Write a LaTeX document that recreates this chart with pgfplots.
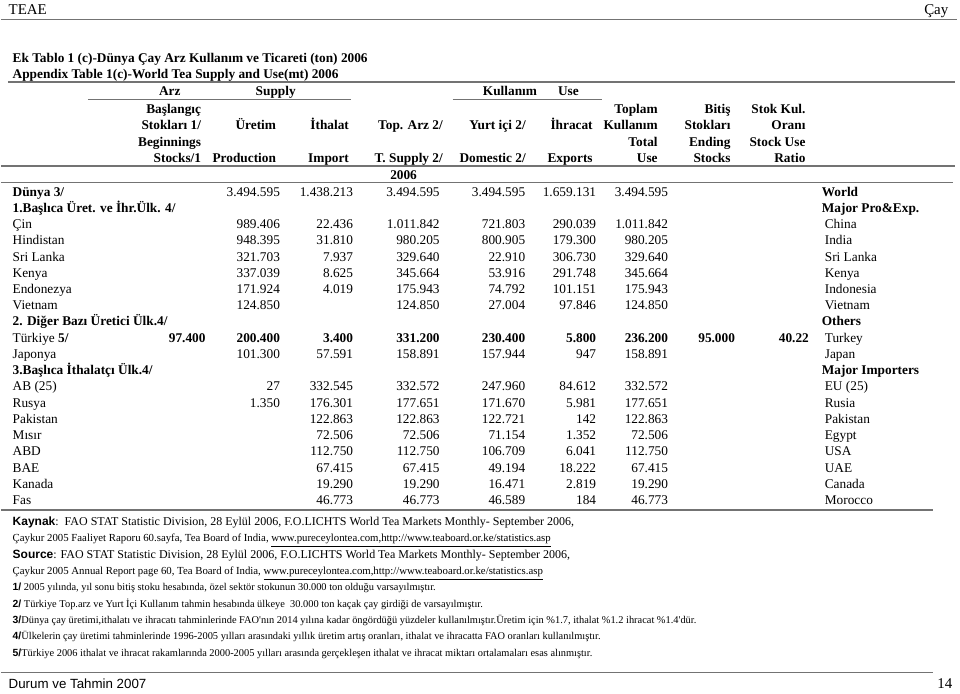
\documentclass[border=0pt]{standalone}
\usepackage{fontspec}
\setmainfont{Liberation Serif}
\setsansfont{Liberation Sans}
\usepackage{pgfplots}
\pgfplotsset{compat=1.18}

% one unit = one pixel of the page (0.75pt)
\pgfplotsset{
  cell/.style={draw=none, mark=none, nodes near coords, point meta=explicit symbolic,
    every node near coord/.append style={anchor=base east, inner sep=0pt, text=black,
      font=\fontsize{10}{12}\selectfont}},
  bcell/.style={cell, every node near coord/.append style={font=\fontsize{10}{12}\selectfont\bfseries}},
  rule/.style={black!55, line width=1.1pt, mark=none},
}
\newcommand{\body}{\fontsize{10}{12}\selectfont}
\newcommand{\srcf}{\fontsize{9}{11}\selectfont}
\newcommand{\urlf}{\fontsize{8.1}{10}\selectfont}
\newcommand{\notef}{\fontsize{7.8}{9}\selectfont}
\newcommand{\lab}[1]{\textsf{\bfseries #1}}

\begin{document}
\begin{tikzpicture}
\begin{axis}[
  hide axis, scale only axis, clip=false,
  width=720pt, height=518.25pt,
  xmin=0, xmax=960, ymin=0, ymax=691, y dir=reverse,
  every node/.style={inner sep=0pt},
]
\addplot[draw=none] coordinates {(0,0) (960,691)};

% rules
\addplot[rule] coordinates {(0,17) (957,17)};
\addplot[rule, line width=1.4pt] coordinates {(7,80) (955,80)};
\addplot[rule, line width=0.8pt] coordinates {(87,97.5) (350,97.5)};
\addplot[rule, line width=0.8pt] coordinates {(452,97.5) (602,97.5)};
\addplot[rule, line width=1.5pt] coordinates {(0,163.5) (955,163.5)};
\addplot[rule] coordinates {(0,180.5) (953,180.5)};
\addplot[rule] coordinates {(0,508) (933,508)};
\addplot[rule] coordinates {(0,671) (933,671)};

% page head and foot
\node[anchor=base west, font=\fontsize{11.2}{13}\selectfont] at (axis cs:3,12) {TEAE};
\node[anchor=base east, font=\fontsize{11.2}{13}\selectfont] at (axis cs:953,12) {Çay};
\node[anchor=base west, font=\sffamily\fontsize{10}{12}\selectfont] at (axis cs:3,687) {Durum ve Tahmin 2007};
\node[anchor=base east, font=\fontsize{11.2}{13}\selectfont] at (axis cs:957,687) {14};

% titles
\node[anchor=base west, font=\body\bfseries] at (axis cs:7,60) {Ek Tablo 1 (c)-Dünya Çay Arz Kullanım ve Ticareti (ton) 2006};
\node[anchor=base west, font=\body\bfseries] at (axis cs:7,76) {Appendix Table 1(c)-World Tea Supply and Use(mt) 2006};

% column heads
\begin{scope}[font=\body\bfseries]
\node[anchor=base] at (axis cs:169,93) {Arz};
\node[anchor=base] at (axis cs:275,93) {Supply};
\node[anchor=base] at (axis cs:509.5,93) {Kullanım};
\node[anchor=base] at (axis cs:568,93) {Use};
\node[anchor=base east] at (axis cs:205,111) {Başlangıç};
\node[anchor=base east] at (axis cs:205,127.5) {Stokları 1/};
\node[anchor=base east] at (axis cs:205,144) {Beginnings};
\node[anchor=base east] at (axis cs:205,160.5) {Stocks/1};
\node[anchor=base east] at (axis cs:280,127.5) {Üretim};
\node[anchor=base east] at (axis cs:280,160.5) {Production};
\node[anchor=base east] at (axis cs:353,127.5) {İthalat};
\node[anchor=base east] at (axis cs:353,160.5) {Import};
\node[anchor=base east] at (axis cs:447,127.5) {Top. Arz 2/};
\node[anchor=base east] at (axis cs:447,160.5) {T. Supply 2/};
\node[anchor=base east] at (axis cs:530,127.5) {Yurt içi 2/};
\node[anchor=base east] at (axis cs:530,160.5) {Domestic 2/};
\node[anchor=base east] at (axis cs:597,127.5) {İhracat};
\node[anchor=base east] at (axis cs:597,160.5) {Exports};
\node[anchor=base east] at (axis cs:662,111) {Toplam};
\node[anchor=base east] at (axis cs:662,127.5) {Kullanım};
\node[anchor=base east] at (axis cs:662,144) {Total};
\node[anchor=base east] at (axis cs:662,160.5) {Use};
\node[anchor=base east] at (axis cs:735,111) {Bitiş};
\node[anchor=base east] at (axis cs:735,127.5) {Stokları};
\node[anchor=base east] at (axis cs:735,144) {Ending};
\node[anchor=base east] at (axis cs:735,160.5) {Stocks};
\node[anchor=base east] at (axis cs:810,111) {Stok Kul.};
\node[anchor=base east] at (axis cs:810,127.5) {Oranı};
\node[anchor=base east] at (axis cs:810,144) {Stock Use};
\node[anchor=base east] at (axis cs:810,160.5) {Ratio};
\node[anchor=base] at (axis cs:403,177) {2006};
\end{scope}

% row names (row i sits at 194 + 16.25 i)
\begin{scope}[font=\body]
\node[anchor=base west, font=\body\bfseries] at (axis cs:7,194) {Dünya 3/};
\node[anchor=base west, font=\body\bfseries] at (axis cs:7,210.25) {1.Başlıca Üret. ve İhr.Ülk. 4/};
\node[anchor=base west] at (axis cs:7,226.5) {Çin};
\node[anchor=base west] at (axis cs:7,242.75) {Hindistan};
\node[anchor=base west] at (axis cs:7,259) {Sri Lanka};
\node[anchor=base west] at (axis cs:7,275.25) {Kenya};
\node[anchor=base west] at (axis cs:7,291.5) {Endonezya};
\node[anchor=base west] at (axis cs:7,307.75) {Vietnam};
\node[anchor=base west, font=\body\bfseries] at (axis cs:7,324) {2. Diğer Bazı Üretici Ülk.4/};
\node[anchor=base west] at (axis cs:7,340.25) {Türkiye \textbf{5/}};
\node[anchor=base west] at (axis cs:7,356.5) {Japonya};
\node[anchor=base west, font=\body\bfseries] at (axis cs:7,372.75) {3.Başlıca İthalatçı Ülk.4/};
\node[anchor=base west] at (axis cs:7,389) {AB (25)};
\node[anchor=base west] at (axis cs:7,405.25) {Rusya};
\node[anchor=base west] at (axis cs:7,421.5) {Pakistan};
\node[anchor=base west] at (axis cs:7,437.75) {Mısır};
\node[anchor=base west] at (axis cs:7,454) {ABD};
\node[anchor=base west] at (axis cs:7,470.25) {BAE};
\node[anchor=base west] at (axis cs:7,486.5) {Kanada};
\node[anchor=base west] at (axis cs:7,502.75) {Fas};

\node[anchor=base west, font=\body\bfseries] at (axis cs:817,194) {World};
\node[anchor=base west, font=\body\bfseries] at (axis cs:817,210.25) {Major Pro\&Exp.};
\node[anchor=base west] at (axis cs:820,226.5) {China};
\node[anchor=base west] at (axis cs:820,242.75) {India};
\node[anchor=base west] at (axis cs:820,259) {Sri Lanka};
\node[anchor=base west] at (axis cs:820,275.25) {Kenya};
\node[anchor=base west] at (axis cs:820,291.5) {Indonesia};
\node[anchor=base west] at (axis cs:820,307.75) {Vietnam};
\node[anchor=base west, font=\body\bfseries] at (axis cs:817,324) {Others};
\node[anchor=base west] at (axis cs:820,340.25) {Turkey};
\node[anchor=base west] at (axis cs:820,356.5) {Japan};
\node[anchor=base west, font=\body\bfseries] at (axis cs:817,372.75) {Major Importers};
\node[anchor=base west] at (axis cs:820,389) {EU (25)};
\node[anchor=base west] at (axis cs:820,405.25) {Rusia};
\node[anchor=base west] at (axis cs:820,421.5) {Pakistan};
\node[anchor=base west] at (axis cs:820,437.75) {Egypt};
\node[anchor=base west] at (axis cs:820,454) {USA};
\node[anchor=base west] at (axis cs:820,470.25) {UAE};
\node[anchor=base west] at (axis cs:820,486.5) {Canada};
\node[anchor=base west] at (axis cs:820,502.75) {Morocco};
\end{scope}

% values, one table per column: r = row, v = value as printed
% Uretim / Production
\addplot[cell] table[x expr=279.5, y expr=194+16.25*\thisrow{r}, meta=v] {
r v
0 3.494.595
2 989.406
3 948.395
4 321.703
5 337.039
6 171.924
7 124.850
10 101.300
12 27
13 1.350
};
% Ithalat / Import
\addplot[cell] table[x expr=352.7, y expr=194+16.25*\thisrow{r}, meta=v] {
r v
0 1.438.213
2 22.436
3 31.810
4 7.937
5 8.625
6 4.019
10 57.591
12 332.545
13 176.301
14 122.863
15 72.506
16 112.750
17 67.415
18 19.290
19 46.773
};
% Top. Arz / T. Supply
\addplot[cell] table[x expr=439.3, y expr=194+16.25*\thisrow{r}, meta=v] {
r v
0 3.494.595
2 1.011.842
3 980.205
4 329.640
5 345.664
6 175.943
7 124.850
10 158.891
12 332.572
13 177.651
14 122.863
15 72.506
16 112.750
17 67.415
18 19.290
19 46.773
};
% Yurt ici / Domestic
\addplot[cell] table[x expr=525, y expr=194+16.25*\thisrow{r}, meta=v] {
r v
0 3.494.595
2 721.803
3 800.905
4 22.910
5 53.916
6 74.792
7 27.004
10 157.944
12 247.960
13 171.670
14 122.721
15 71.154
16 106.709
17 49.194
18 16.471
19 46.589
};
% Ihracat / Exports
\addplot[cell] table[x expr=596, y expr=194+16.25*\thisrow{r}, meta=v] {
r v
0 1.659.131
2 290.039
3 179.300
4 306.730
5 291.748
6 101.151
7 97.846
10 947
12 84.612
13 5.981
14 142
15 1.352
16 6.041
17 18.222
18 2.819
19 184
};
% Toplam Kullanim / Total Use
\addplot[cell] table[x expr=668, y expr=194+16.25*\thisrow{r}, meta=v] {
r v
0 3.494.595
2 1.011.842
3 980.205
4 329.640
5 345.664
6 175.943
7 124.850
10 158.891
12 332.572
13 177.651
14 122.863
15 72.506
16 112.750
17 67.415
18 19.290
19 46.773
};
% Turkiye row, set in bold
\addplot[bcell] table[y expr=340.25, meta=v] {
x v
205 97.400
279.5 200.400
352.7 3.400
439.3 331.200
525 230.400
596 5.800
668 236.200
735 95.000
809 40.22
};

% sources and notes
\node[anchor=base west, font=\srcf] at (axis cs:7,523.5) {\lab{Kaynak}:\ \ FAO STAT Statistic Division, 28 Eylül 2006, F.O.LICHTS World Tea Markets Monthly- September 2006,};
\node[anchor=base west, font=\urlf] at (axis cs:7,540) {Çaykur 2005 Faaliyet Raporu 60.sayfa, Tea Board of India, \underline{www.pureceylontea.com,http://www.teaboard.or.ke/statistics.asp}};
\node[anchor=base west, font=\srcf] at (axis cs:7,556.5) {\lab{Source}: FAO STAT Statistic Division, 28 Eylül 2006, F.O.LICHTS World Tea Markets Monthly- September 2006,};
\node[anchor=base west, font=\urlf] at (axis cs:7,573) {Çaykur 2005 Annual Report page 60, Tea Board of India, \underline{www.pureceylontea.com,http://www.teaboard.or.ke/statistics.asp}};
\node[anchor=base west, font=\notef] at (axis cs:7,589) {\lab{1/} 2005 yılında, yıl sonu bitiş stoku hesabında, özel sektör stokunun 30.000 ton olduğu varsayılmıştır.};
\node[anchor=base west, font=\notef] at (axis cs:7,605.5) {\lab{2/} Türkiye Top.arz ve Yurt İçi Kullanım tahmin hesabında ülkeye\ \ 30.000 ton kaçak çay girdiği de varsayılmıştır.};
\node[anchor=base west, font=\notef] at (axis cs:7,622) {\lab{3/}Dünya çay üretimi,ithalatı ve ihracatı tahminlerinde FAO\textquotesingle nın 2014 yılına kadar öngördüğü yüzdeler kullanılmıştır.Üretim için \%1.7, ithalat \%1.2 ihracat \%1.4\textquotesingle dür.};
\node[anchor=base west, font=\notef] at (axis cs:7,638) {\lab{4/}Ülkelerin çay üretimi tahminlerinde 1996-2005 yılları arasındaki yıllık üretim artış oranları, ithalat ve ihracatta FAO oranları kullanılmıştır.};
\node[anchor=base west, font=\notef] at (axis cs:7,654.5) {\lab{5/}Türkiye 2006 ithalat ve ihracat rakamlarında 2000-2005 yılları arasında gerçekleşen ithalat ve ihracat miktarı ortalamaları esas alınmıştır.};
\end{axis}
\end{tikzpicture}
\end{document}
